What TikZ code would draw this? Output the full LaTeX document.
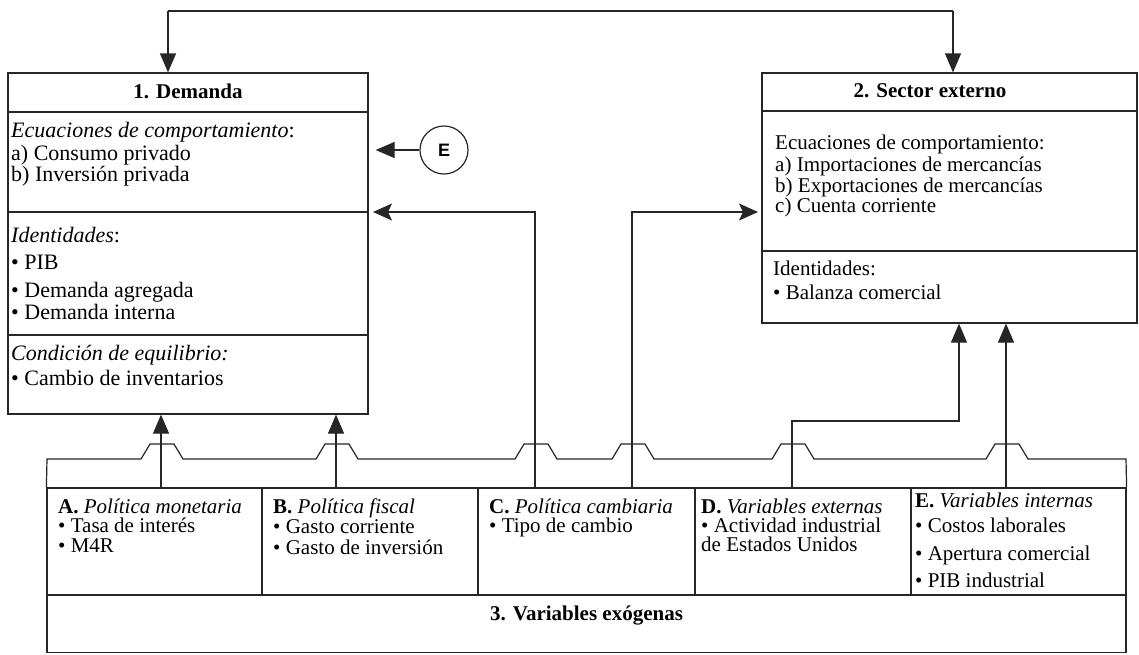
\documentclass[tikz,border=0pt]{standalone}
\usepackage{fontspec}
\setmainfont{Liberation Serif}
\newfontfamily\sansE{Liberation Sans}
\usetikzlibrary{arrows.meta,calc}
\begin{document}
\begin{tikzpicture}[x=1pt,y=-1pt,
  ln/.style={line width=1.2pt,draw=black!85},
  boxnode/.style={ln,rectangle,inner sep=0pt},
  txt/.style={anchor=base west,inner sep=0pt,font=\fontsize{21}{21}\selectfont},
  txtd/.style={anchor=base west,inner sep=0pt,font=\fontsize{22}{21}\selectfont},
  ttl/.style={anchor=base,inner sep=0pt,font=\fontsize{21}{21}\selectfont\bfseries},
  arr/.style={ln,-{Triangle[length=19pt,width=16pt]}},
  arrs/.style={ln,-{Stealth[length=19pt,width=17pt,inset=4pt]}},
  ecirc/.style={ln,circle,minimum size=48pt,inner sep=0pt,font=\fontsize{18}{18}\sansE\bfseries}
]
\useasboundingbox (0,0) rectangle (1139,654);

% main boxes
\node[boxnode,minimum width=360pt,minimum height=341pt] (dem) at (188,243.5) {};
\node[boxnode,minimum width=375pt,minimum height=250pt] (sec) at (949.5,198) {};
\draw[ln] (dem.west |- 0,112) -- (dem.east |- 0,112);
\draw[ln] (dem.west |- 0,212) -- (dem.east |- 0,212);
\draw[ln] (dem.west |- 0,335) -- (dem.east |- 0,335);
\draw[ln] (sec.west |- 0,111) -- (sec.east |- 0,111);
\draw[ln] (sec.west |- 0,251) -- (sec.east |- 0,251);

% bottom boxes
\node[boxnode,minimum width=215pt,minimum height=107pt] (boxA) at (154.5,541.5) {};
\node[boxnode,minimum width=216pt,minimum height=107pt] (boxB) at (370,541.5) {};
\node[boxnode,minimum width=217pt,minimum height=107pt] (boxC) at (586.5,541.5) {};
\node[boxnode,minimum width=216pt,minimum height=107pt] (boxD) at (803,541.5) {};
\node[boxnode,minimum width=215pt,minimum height=107pt] (boxE) at (1018.5,541.5) {};
\node[boxnode,minimum width=1079pt,minimum height=57.5pt] (exo) at (586.5,623.75) {};

% E circle
\node[ecirc] (E) at (444,150) {E};

% texts: demanda
\node[ttl] (tdem) at (188,98) {1. Demanda};
\node[txtd] (d1) at (11,137) {\textit{Ecuaciones de comportamiento}:};
\node[txtd] (d2) at (11,160) {a) Consumo privado};
\node[txtd] (d3) at (11,181) {b) Inversión privada};
\node[txtd] (d4) at (11,242) {\textit{Identidades}:};
\node[txtd] (d5) at (11,269) {• PIB};
\node[txtd] (d6) at (11,297) {• Demanda agregada};
\node[txtd] (d7) at (11,319) {• Demanda interna};
\node[txtd] (d8) at (11,360) {\textit{Condición de equilibrio:}};
\node[txtd] (d9) at (11,385) {• Cambio de inventarios};

% texts: sector externo
\node[ttl] (tsec) at (930,97) {2. Sector externo};
\node[txt] (s1) at (775,149) {Ecuaciones de comportamiento:};
\node[txt] (s2) at (775,171) {a) Importaciones de mercancías};
\node[txt] (s3) at (775,192) {b) Exportaciones de mercancías};
\node[txt] (s4) at (775,212) {c) Cuenta corriente};
\node[txt] (s5) at (773,275) {Identidades:};
\node[txt] (s6) at (773,299) {• Balanza comercial};

% bottom texts
\node[txt] (a1t) at (58,513) {\textbf{A.} \textit{Política monetaria}};
\node[txt] (a2t) at (58,532) {• Tasa de interés};
\node[txt] (a3t) at (58,552) {• M4R};
\node[txt] (b1t) at (273,513) {\textbf{B.} \textit{Política fiscal}};
\node[txt] (b2t) at (273,533) {• Gasto corriente};
\node[txt] (b3t) at (273,554) {• Gasto de inversión};
\node[txt] (c1t) at (489,513) {\textbf{C.} \textit{Política cambiaria}};
\node[txt] (c2t) at (489,532) {• Tipo de cambio};
\node[txt] (dd1t) at (701,513) {\textbf{D.} \textit{Variables externas}};
\node[txt] (dd2t) at (701,532) {• Actividad industrial};
\node[txt] (dd3t) at (701,551) {de Estados Unidos};
\node[txt] (e1t) at (915,507) {\textbf{E.} \textit{Variables internas}};
\node[txt] (e2t) at (915,532) {• Costos laborales};
\node[txt] (e3t) at (915,560) {• Apertura comercial};
\node[txt] (e4t) at (915,587) {• PIB industrial};
\node[ttl] (texo) at (586.5,620) {3. Variables exógenas};

% named coordinates for connector ends
\coordinate (t1) at (168,11);
\coordinate (t2) at (953,11);
\coordinate (pa) at (161,488);
\coordinate (pb) at (336,488);
\coordinate (pc1) at (535,488);
\coordinate (pc2) at (632,488);
\coordinate (pd) at (792,488);
\coordinate (pdturn) at (959,421);
\coordinate (pe) at (1006,488);
\coordinate (demin) at (368,212);
\coordinate (secin) at (762,212);

% top feedback
\draw[ln] (t1) -- (t2);
\draw[arr] (t1) -- (t1 |- dem.north);
\draw[arr] (t2) -- (t2 |- sec.north);

% E arrow
\draw[arr,shorten >=7pt] (E.west) -- (E.west -| dem.east);

% exogenous connectors
\draw[arr] (pa) -- (pa |- dem.south);
\draw[arr] (pb) -- (pb |- dem.south);
\draw[arrs,shorten >=5pt] (pc1) |- (demin);
\draw[arrs,shorten >=4pt] (pc2) |- (secin);
\draw[arr] (pd) |- (pdturn) -- (pdturn |- sec.south);
\draw[arr] (pe) -- (pe |- sec.south);

% bus with hops
\draw[ln] (boxA.north west) -- (47,459)
 -- (141,459) -- (150,444) -- (174,444) -- (183,459)
 -- (316,459) -- (325,444) -- (349,444) -- (358,459)
 -- (515,459) -- (524,444) -- (548,444) -- (557,459)
 -- (612,459) -- (621,444) -- (645,444) -- (654,459)
 -- (772,459) -- (781,444) -- (805,444) -- (814,459)
 -- (986,459) -- (995,444) -- (1019,444) -- (1028,459)
 -- (1126,459) -- (boxE.north east);
\end{tikzpicture}
\end{document}
